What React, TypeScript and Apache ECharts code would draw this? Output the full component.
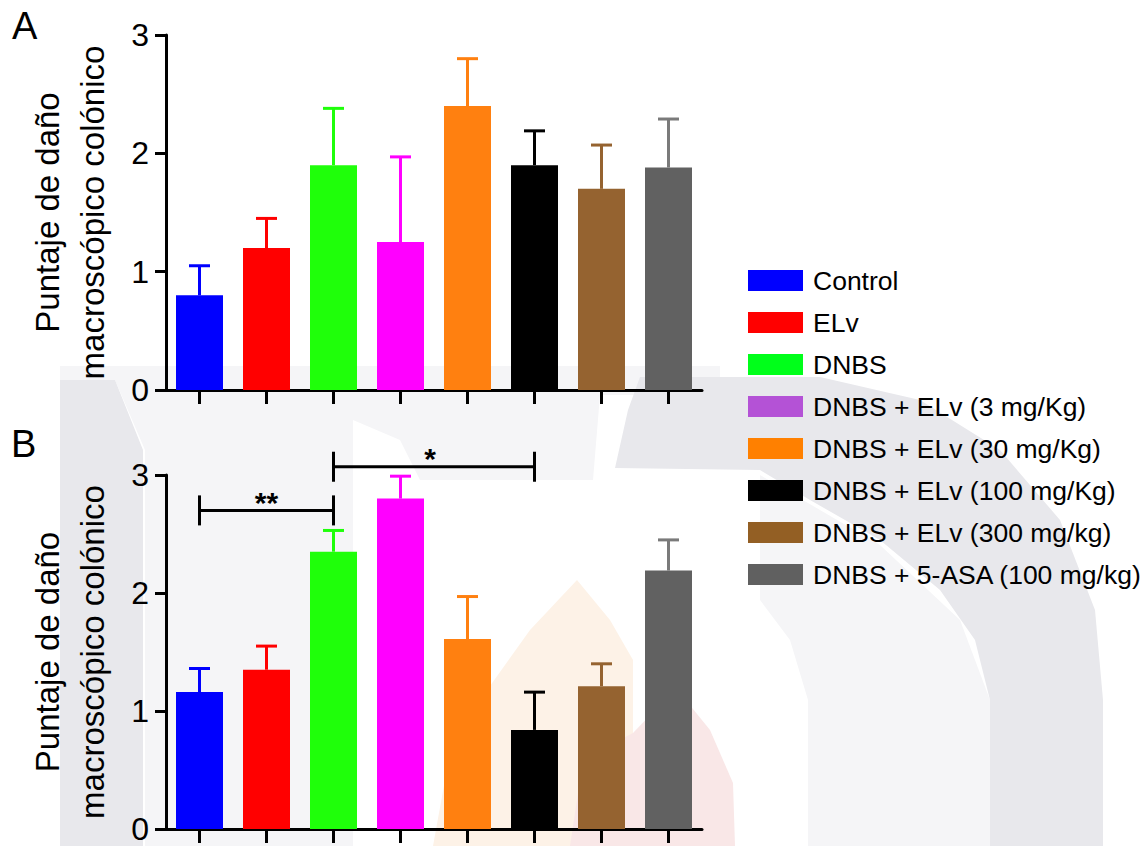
import React, { useEffect, useRef } from "react";
import * as echarts from "echarts";

const categories = [
  "Control",
  "ELv",
  "DNBS",
  "DNBS + ELv (3 mg/Kg)",
  "DNBS + ELv (30 mg/Kg)",
  "DNBS + ELv (100 mg/Kg)",
  "DNBS + ELv (300 mg/kg)",
  "DNBS + 5-ASA (100 mg/kg)",
];

const barColors = ["#0000ff", "#ff0000", "#1fff0a", "#ff00ff", "#ff8010", "#000000", "#956330", "#616161"];
const errColors = ["#0000ff", "#ff0000", "#1fff0a", "#ff00ff", "#ff8010", "#000000", "#956330", "#7a7a7a"];
const legendColors = ["#0000ff", "#ff0000", "#00ff1a", "#b452d6", "#ff8000", "#000000", "#935f24", "#606060"];

// Panel A: means and SEM (upper)
const meanA = [0.8, 1.2, 1.9, 1.25, 2.4, 1.9, 1.7, 1.88];
const errA = [0.25, 0.25, 0.48, 0.72, 0.4, 0.29, 0.37, 0.41];

// Panel B
const meanB = [1.16, 1.35, 2.35, 2.8, 1.61, 0.84, 1.21, 2.19];
const errB = [0.2, 0.2, 0.18, 0.19, 0.36, 0.32, 0.19, 0.26];

// significance brackets in panel B: [fromIndex, toIndex, yValue, label]
const brackets: [number, number, number, string][] = [
  [0, 2, 2.7, "**"],
  [2, 5, 3.07, "*"],
];

const yTicks = [0, 1, 2, 3];
const yTitle = "Puntaje de daño\nmacroscópico colónico";
const FONT = "'Liberation Sans', Arial, Helvetica, sans-serif";

export default function App() {
  const ref = useRef<HTMLDivElement>(null);
  useEffect(() => {
    if (!ref.current) return;
    const chart = echarts.init(ref.current, undefined, { renderer: "svg" });

    const grids = [
      { left: 166, top: 35, width: 536, height: 355 },
      { left: 166, top: 475, width: 536, height: 354 },
    ];

    const xAxes = grids.map((_, i) => ({
      type: "category",
      gridIndex: i,
      data: categories,
      axisLine: { show: true, lineStyle: { color: "#000", width: 3 } },
      axisTick: { show: true, alignWithLabel: true, interval: 0, length: 14, lineStyle: { color: "#000", width: 3 } },
      axisLabel: { show: false },
      splitLine: { show: false },
    }));

    const yAxes = grids.map((_, i) => ({
      type: "value",
      gridIndex: i,
      min: yTicks[0],
      max: yTicks[yTicks.length - 1],
      interval: 1,
      name: yTitle,
      nameLocation: "middle",
      nameGap: 51,
      nameTextStyle: { fontSize: 33, lineHeight: 45, color: "#000", fontFamily: FONT },
      axisLine: { show: true, lineStyle: { color: "#000", width: 3 } },
      axisTick: { show: true, length: 11, lineStyle: { color: "#000", width: 3 } },
      axisLabel: { fontSize: 32, color: "#000", margin: 17, fontFamily: FONT },
      splitLine: { show: false },
    }));

    const series: any[] = [];
    [meanA, meanB].forEach((means, p) => {
      categories.forEach((name, ci) => {
        series.push({
          type: "bar",
          name,
          xAxisIndex: p,
          yAxisIndex: p,
          barWidth: 47,
          barGap: "-100%",
          itemStyle: { color: barColors[ci] },
          data: means.map((v, k) => (k === ci ? v : "-")),
          z: 3,
        });
      });
    });

    [[meanA, errA], [meanB, errB]].forEach(([means, errs], p) => {
      series.push({
        type: "custom",
        name: "err" + p,
        xAxisIndex: p,
        yAxisIndex: p,
        z: 4,
        encode: { x: 0, y: 1 },
        data: means.map((m, k) => [k, m, errs[k]]),
        renderItem: (params: any, api: any) => {
          const k = api.value(0);
          const m = api.value(1);
          const e = api.value(2);
          const base = api.coord([k, m]);
          const top = api.coord([k, m + e]);
          const style = { stroke: errColors[k], lineWidth: 3 };
          return {
            type: "group",
            children: [
              { type: "line", shape: { x1: base[0], y1: base[1], x2: top[0], y2: top[1] }, style },
              { type: "line", shape: { x1: top[0] - 10.5, y1: top[1], x2: top[0] + 10.5, y2: top[1] }, style },
            ],
          };
        },
      });
    });

    series.push({
      type: "custom",
      name: "sig",
      xAxisIndex: 1,
      yAxisIndex: 1,
      z: 5,
      clip: false,
      encode: { x: [0, 1], y: 2 },
      data: brackets.map((b) => [b[0], b[1], b[2], b[3]]),
      renderItem: (params: any, api: any) => {
        const i = params.dataIndex;
        const b = brackets[i];
        const l = api.coord([b[0], b[2]]);
        const r = api.coord([b[1], b[2]]);
        const style = { stroke: "#000", lineWidth: 3 };
        return {
          type: "group",
          children: [
            { type: "line", shape: { x1: l[0], y1: l[1], x2: r[0], y2: r[1] }, style },
            { type: "line", shape: { x1: l[0], y1: l[1] - 15, x2: l[0], y2: l[1] + 15 }, style },
            { type: "line", shape: { x1: r[0], y1: r[1] - 15, x2: r[0], y2: r[1] + 15 }, style },
            {
              type: "text",
              x: (l[0] + r[0]) / 2 - (b[3].length === 1 ? 4 : 0),
              y: l[1] + 7,
              style: {
                text: b[3],
                fill: "#000",
                fontSize: 30,
                fontWeight: "bold",
                fontFamily: FONT,
                align: "center",
                verticalAlign: "bottom",
              },
            },
          ],
        };
      },
    });

    const dark = "#e8e8ec";
    const light = "#f5f5f7";
    const graphic: any[] = [
      // faint watermark shapes
      {
        type: "polygon", z: -20,
        shape: { points: [[60, 366], [720, 366], [720, 395], [600, 395], [593, 480], [420, 480], [400, 440], [353, 420], [353, 846], [145, 846], [145, 450], [115, 380], [60, 380]] },
        style: { fill: light },
      },
      { type: "polygon", z: -18, shape: { points: [[60, 380], [115, 380], [143, 450], [143, 846], [60, 846]] }, style: { fill: dark } },
      {
        type: "polygon", z: -18,
        shape: {
          points: [[615, 468], [628, 410], [640, 377], [820, 377], [920, 400], [1000, 450], [1060, 520], [1095, 610], [1103, 700], [1103, 846],
            [990, 846], [990, 700], [975, 640], [940, 590], [880, 540], [810, 500], [760, 470]],
        },
        style: { fill: dark },
      },
      { type: "polygon", z: -20, shape: { points: [[760, 475], [880, 545], [960, 620], [990, 700], [990, 846], [808, 846], [808, 700], [790, 640], [760, 600]] }, style: { fill: light } },
      { type: "polygon", z: -16, shape: { points: [[433, 846], [445, 780], [480, 700], [530, 630], [577, 580], [610, 620], [633, 660], [633, 846]] }, style: { fill: "#fdf2e7" } },
      { type: "polygon", z: -15, shape: { points: [[570, 846], [580, 780], [610, 745], [633, 733], [660, 705], [680, 693], [710, 730], [733, 783], [735, 846]] }, style: { fill: "#f9e7e7" } },
      { type: "text", left: 12, top: 7, style: { text: "A", fontSize: 38, fill: "#000", fontFamily: FONT } },
      { type: "text", left: 11, top: 425, style: { text: "B", fontSize: 38, fill: "#000", fontFamily: FONT } },
    ];

    chart.setOption({
      animation: false,
      backgroundColor: "#ffffff",
      grid: grids,
      xAxis: xAxes,
      yAxis: yAxes,
      legend: {
        orient: "vertical",
        left: 748,
        top: 267,
        padding: 0,
        itemWidth: 55,
        itemHeight: 21,
        itemGap: 15,
        icon: "rect",
        selectedMode: false,
        textStyle: { fontSize: 26.5, color: "#000", fontFamily: FONT, padding: [0, 0, 0, 5] },
        data: categories.map((c, i) => ({ name: c, itemStyle: { color: legendColors[i] } })),
      },
      graphic,
      series,
    });
    return () => chart.dispose();
  }, []);
  return <div ref={ref} style={{ position: "fixed", left: 0, top: 0, width: 1143, height: 846 }} />;
}
